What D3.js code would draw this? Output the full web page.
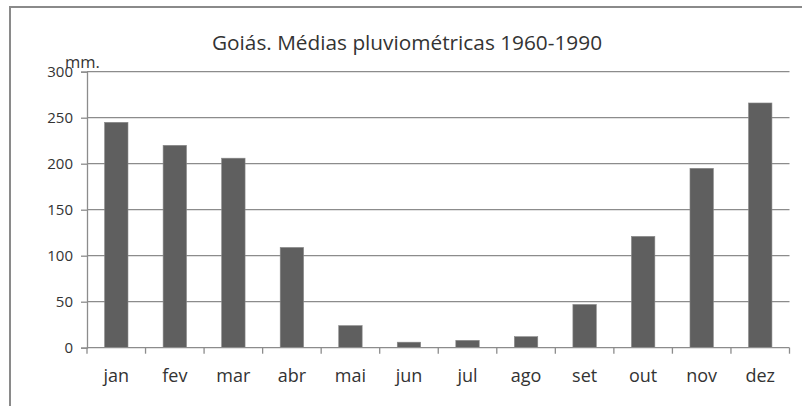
<!DOCTYPE html>
<html>
<head>
<meta charset="utf-8">
<script src="https://cdn.jsdelivr.net/npm/d3@7"></script>
<style>
    body { margin: 0; background: #fff; }
    text { font-family: "Open Sans", sans-serif; fill: #333; }
</style>
</head>
<body>
<svg id="chart" width="802" height="406"></svg>
<script>
'use strict';
// Goiás - average monthly rainfall (mm), 1960-1990
let months = ["jan", "fev", "mar", "abr", "mai", "jun", "jul", "ago", "set", "out", "nov", "dez"];
let rainfall = [245, 220, 206, 109, 24, 6, 8, 12, 47, 121, 195, 266];
let yTicks = [0, 50, 100, 150, 200, 250, 300];
let title = "Goiás. Médias pluviométricas 1960-1990";
let unitLabel = "mm.";

let svg = d3.select("#chart"),
    margin = {top: 71.7, right: 12.5, bottom: 58.3, left: 87},
    width = +svg.attr("width"),
    height = +svg.attr("height");

// outer frame of the chart (runs past right/bottom edges)
svg.append("rect")
    .attr("x", 10).attr("y", 7)
    .attr("width", 900).attr("height", 600)
    .attr("fill", "none")
    .attr("stroke", "#8a8a8a")
    .attr("stroke-width", 2);

let x = d3.scaleBand()
    .domain(months)
    .range([margin.left, width - margin.right])
    .paddingInner(0.6)
    .paddingOuter(0.3);

let y = d3.scaleLinear()
    .domain([0, 300])
    .range([height - margin.bottom, margin.top]);

// gridlines
svg.append("g")
    .selectAll("line")
    .data(yTicks.filter(t => t > 0))
    .enter().append("line")
        .attr("x1", margin.left)
        .attr("x2", width - margin.right)
        .attr("y1", d => y(d))
        .attr("y2", d => y(d))
        .attr("stroke", "#8c8c8c")
        .attr("stroke-width", 1.3);

// y axis
let yAxis = svg.append("g")
    .attr("transform", "translate(" + margin.left + ",0)")
    .call(d3.axisLeft(y).tickValues(yTicks).tickSize(6).tickPadding(8));
yAxis.select(".domain").attr("stroke", "#8c8c8c").attr("stroke-width", 1.3);
yAxis.selectAll(".tick line").attr("stroke", "#8c8c8c").attr("stroke-width", 1.3);
yAxis.selectAll(".tick text")
    .style("font-family", "'Open Sans', sans-serif")
    .style("font-size", "15px")
    .attr("fill", "#333");

// bars
svg.append("g")
    .selectAll("rect")
    .data(months)
    .enter().append("rect")
        .attr("x", d => x(d))
        .attr("y", (d, i) => y(rainfall[i]))
        .attr("width", x.bandwidth())
        .attr("height", (d, i) => y(0) - y(rainfall[i]))
        .attr("fill", "#5f5f5f")
        .attr("stroke", "#8a8a8a")
        .attr("stroke-width", 0.6);

// x axis (ticks between categories)
let y0 = y(0);
let bounds = d3.range(months.length + 1).map(i => margin.left + i * x.step());
let xg = svg.append("g");
xg.append("line")
    .attr("x1", margin.left).attr("x2", width - margin.right)
    .attr("y1", y0).attr("y2", y0)
    .attr("stroke", "#8c8c8c").attr("stroke-width", 1.3);
xg.selectAll("line.tick")
    .data(bounds)
    .enter().append("line")
        .attr("class", "tick")
        .attr("x1", d => d).attr("x2", d => d)
        .attr("y1", y0).attr("y2", y0 + 6)
        .attr("stroke", "#8c8c8c").attr("stroke-width", 1.3);
xg.selectAll("text")
    .data(months)
    .enter().append("text")
        .attr("x", d => x(d) + x.bandwidth() / 2)
        .attr("y", y0 + 34)
        .attr("text-anchor", "middle")
        .style("font-size", "18px")
        .text(d => d);

// title
svg.append("text")
    .attr("x", 407)
    .attr("y", 50)
    .attr("text-anchor", "middle")
    .style("font-size", "20.8px")
    .text(title);

// unit label
svg.append("text")
    .attr("x", 65)
    .attr("y", 68)
    .style("font-size", "16.5px")
    .text(unitLabel);
</script>
</body>
</html>
